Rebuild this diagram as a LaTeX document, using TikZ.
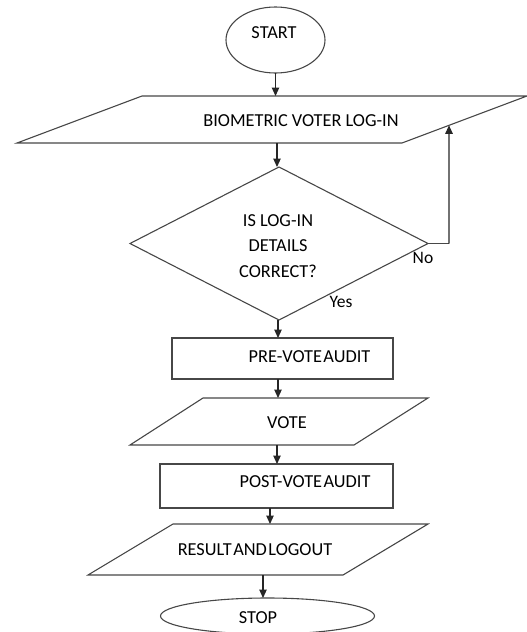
\documentclass[tikz,border=0pt]{standalone}
\usepackage{fontspec}
\setmainfont{Carlito}
\usetikzlibrary{shapes.geometric,arrows.meta,calc}
\begin{document}
\begin{tikzpicture}[x=1pt,y=-1pt,
  shp/.style={draw=black!72,line width=1.1pt,inner sep=0pt,outer sep=0pt},
  txt/.style={font=\fontsize{18.3}{25.5}\selectfont,text=black,inner sep=0pt,align=center},
  tight/.style={txt,execute at begin node={\spaceskip=0.08em\relax}},
  lbl/.style={font=\fontsize{17.5}{20}\selectfont,text=black,inner sep=0pt},
  arr/.style={draw=black!85,line width=1.1pt,-{Triangle[length=8.5pt,width=7.5pt]}},
  ln/.style={draw=black!72,line width=1.1pt}]
\useasboundingbox (0,0) rectangle (527,632);
% parallelogram corners
\coordinate (bioTL) at (142,96);  \coordinate (bioTR) at (527,96);
\coordinate (bioBR) at (402,143); \coordinate (bioBL) at (17,143);
\coordinate (voteTL) at (203,398); \coordinate (voteTR) at (428,398);
\coordinate (voteBR) at (354,445); \coordinate (voteBL) at (130,445);
\coordinate (resTL) at (173,524); \coordinate (resTR) at (428,524);
\coordinate (resBR) at (343,575); \coordinate (resBL) at (88,575);
% shapes
\node[shp,ellipse,minimum width=99pt,minimum height=66pt] (start) at (275.5,40) {};
\draw[shp] (bioTL) -- (bioTR) -- (bioBR) -- (bioBL) -- cycle;
\node[shp,diamond,minimum width=298pt,minimum height=153pt] (dia) at (279,243.5) {};
\node[shp,rectangle,minimum width=221pt,minimum height=41pt] (pre) at (282.5,358.5) {};
\draw[shp] (voteTL) -- (voteTR) -- (voteBR) -- (voteBL) -- cycle;
\node[shp,rectangle,minimum width=233pt,minimum height=44pt] (post) at (276.5,486) {};
\draw[shp] (resTL) -- (resTR) -- (resBR) -- (resBL) -- cycle;
\node[shp,ellipse,minimum width=214pt,minimum height=36pt] (stop) at (267.5,616) {};
% connection points on the parallelograms
\coordinate (bioN) at (275.5,96);  \coordinate (bioS) at (277,143);
\coordinate (voteN) at (278,398);  \coordinate (voteS) at (277,445);
\coordinate (resN) at (270,524);   \coordinate (resS) at (263,575);
\coordinate (loop) at (449,243.5);
\coordinate (bioE) at ($(bioBR)!0.376!(bioTR)$);
% texts
\node[txt] (tstart) at (274,33) {START};
\node[txt] (tbio) at (301,121) {BIOMETRIC VOTER LOG-IN};
\node[txt] (tdia) at (278,246) {IS LOG-IN\\DETAILS\\CORRECT?};
\node[tight] (tpre) at (309.5,357) {PRE-VOTE AUDIT};
\node[txt] (tvote) at (287,423) {VOTE};
\node[tight] (tpost) at (305,482) {POST-VOTE AUDIT};
\node[tight] (tres) at (255,550) {RESULT AND LOGOUT};
\node[txt] (tstop) at (258,618) {STOP};
\node[lbl] (no) at (423,258) {No};
\node[lbl] (yes) at (341,302) {Yes};
% connectors
\draw[arr] (start.south) -- (bioN);
\draw[arr] (bioS) -- (bioS |- dia.north);
\draw[ln] (dia.east) -- (loop);
\draw[arr] (loop) -- (bioE);
\draw[arr] ($(dia.south)+(-1,0)$) -- ($(dia.south |- pre.north)+(-1,0)$);
\draw[arr] ($(dia.south |- pre.south)+(-1,0)$) -- (voteN);
\draw[arr] (voteS) -- (voteS |- post.north);
\draw[arr] (resN |- post.south) -- (resN);
\draw[arr] (resS) -- (resS |- stop.north);
\end{tikzpicture}
\end{document}
